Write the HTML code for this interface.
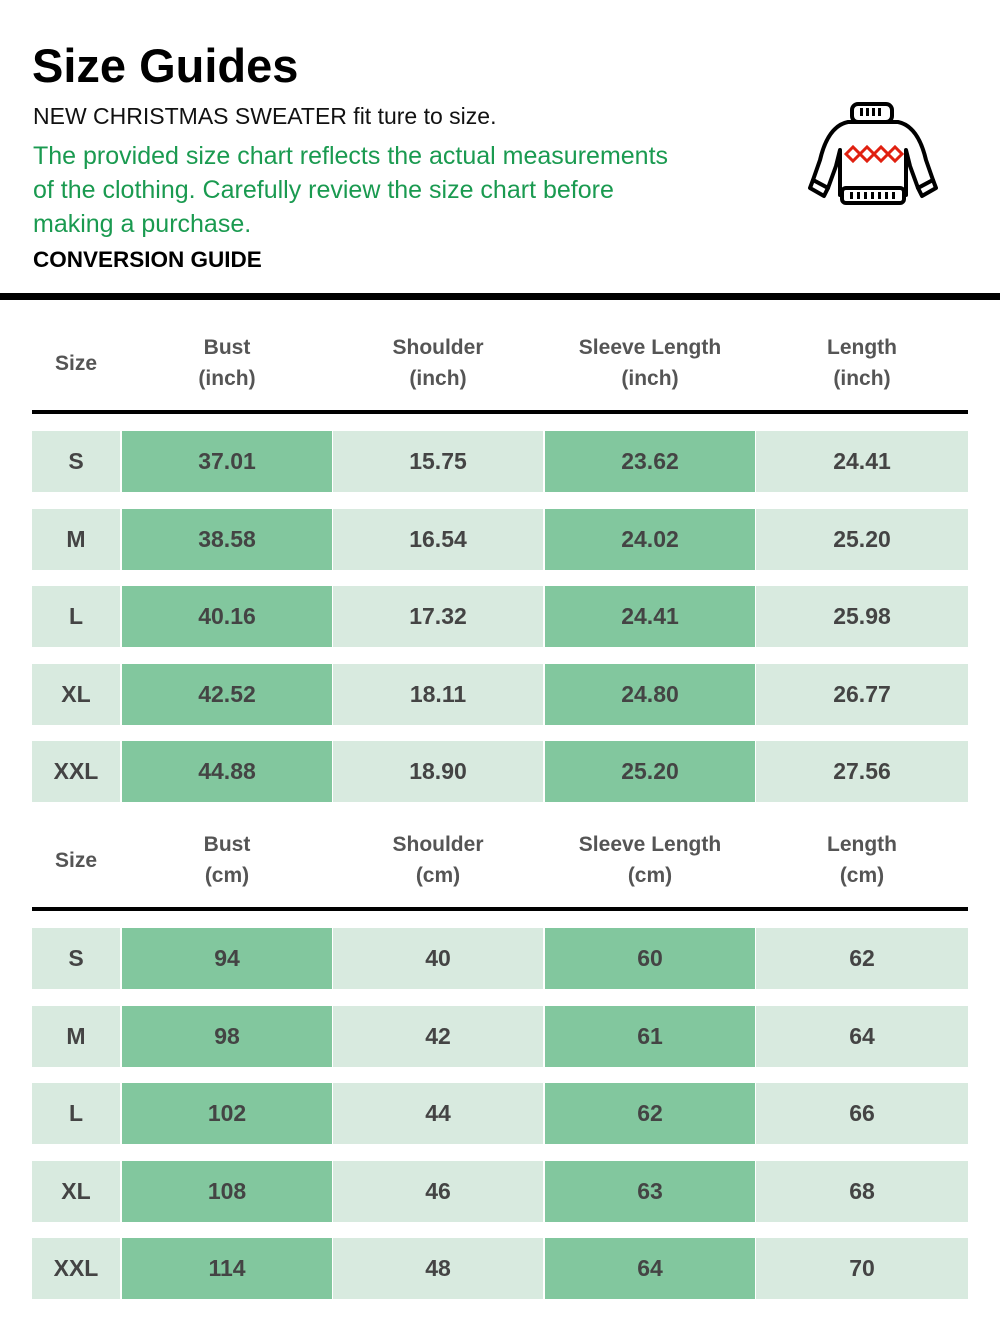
<!DOCTYPE html>
<html><head><meta charset="utf-8"><style>
body{margin:0;width:1000px;height:1331px;background:#fff;position:relative;font-family:"Liberation Sans","DejaVu Sans",sans-serif;overflow:hidden}
.a{position:absolute;white-space:nowrap}
.c{position:absolute;display:flex;align-items:center;justify-content:center;font-weight:bold;font-size:23px;color:#444;text-align:center}
.h{position:absolute;display:flex;align-items:center;justify-content:center;font-weight:bold;font-size:21px;color:#555;text-align:center;line-height:31px}
.l{background:#d8eadf}.d{background:#82c79e}
.ln{position:absolute;left:32px;width:936px;height:4px;background:#000}
</style></head><body>
<div class="a" style="left:32px;top:38px;font-size:47px;font-weight:bold;color:#000">Size Guides</div>
<div class="a" style="left:33px;top:103px;font-size:23px;color:#111">NEW CHRISTMAS SWEATER fit ture to size.</div>
<div class="a" style="left:33px;top:139px;font-size:25px;color:#1a9a50;line-height:34px">The provided size chart reflects the actual measurements<br>of the clothing. Carefully review the size chart before<br>making a purchase.</div>
<div class="a" style="left:33px;top:247px;font-size:22.5px;font-weight:bold;color:#000">CONVERSION GUIDE</div>
<svg class="a" style="left:808px;top:100px" width="130" height="108" viewBox="0 0 130 108">
<g stroke="#000" stroke-width="4" fill="#fff" stroke-linejoin="round">
<path d="M40 22 Q20 26 12 60 L5 80 L20 88 L28 66 L32 50 L32 95 L98 95 L98 50 L102 66 L110 88 L125 80 L118 60 Q110 26 90 22 Z"/>
<rect x="44" y="4" width="40" height="18" rx="6"/>
<rect x="34" y="88" width="62" height="15" rx="4"/>
<path d="M5 80 L20 88 L16 96 L2 88 Z"/><path d="M125 80 L110 88 L114 96 L128 88 Z"/>
</g>
<g fill="#000"><rect x="52" y="8" width="3" height="8"/><rect x="58" y="8" width="3" height="8"/><rect x="64" y="8" width="3" height="8"/><rect x="70" y="8" width="3" height="8"/>
<rect x="42" y="92" width="3" height="7"/><rect x="49" y="92" width="3" height="7"/><rect x="56" y="92" width="3" height="7"/><rect x="63" y="92" width="3" height="7"/><rect x="70" y="92" width="3" height="7"/><rect x="77" y="92" width="3" height="7"/><rect x="84" y="92" width="3" height="7"/></g>
<g fill="none" stroke="#e02010" stroke-width="3"><path d="M38 54 l7 -7 l7 7 l-7 7 z M52 54 l7 -7 l7 7 l-7 7 z M66 54 l7 -7 l7 7 l-7 7 z M80 54 l7 -7 l7 7 l-7 7 z"/></g>
</svg>
<div class="a" style="left:0;top:293px;width:1000px;height:7px;background:#000"></div>
<div id="t"></div>
<script>
var cols=[[32,88],[122,210],[333,210],[545,210],[756,212]];
var sizes=["S","M","L","XL","XXL"];
var inch=[["37.01","15.75","23.62","24.41"],["38.58","16.54","24.02","25.20"],["40.16","17.32","24.41","25.98"],["42.52","18.11","24.80","26.77"],["44.88","18.90","25.20","27.56"]];
var cm=[["94","40","60","62"],["98","42","61","64"],["102","44","62","66"],["108","46","63","68"],["114","48","64","70"]];
var h="";
function tbl(hy,ly,ry,unit,data){
 var hd=["Size","Bust<br>("+unit+")","Shoulder<br>("+unit+")","Sleeve Length<br>("+unit+")","Length<br>("+unit+")"];
 for(var i=0;i<5;i++)h+='<div class="h" style="left:'+cols[i][0]+'px;top:'+hy+'px;width:'+cols[i][1]+'px;height:70px">'+hd[i]+'</div>';
 h+='<div class="ln" style="top:'+ly+'px"></div>';
 for(var r=0;r<5;r++){var y=ry+r*77.5;
  for(var i=0;i<5;i++){var cl=(i==1||i==3)?"d":"l";var tx=i==0?sizes[r]:data[r][i-1];
   h+='<div class="c '+cl+'" style="left:'+cols[i][0]+'px;top:'+y+'px;width:'+cols[i][1]+'px;height:61px">'+tx+'</div>';}}
}
tbl(328,410,431,"inch",inch);
tbl(825,907,928,"cm",cm);
document.getElementById("t").innerHTML=h;
</script>
</body></html>
